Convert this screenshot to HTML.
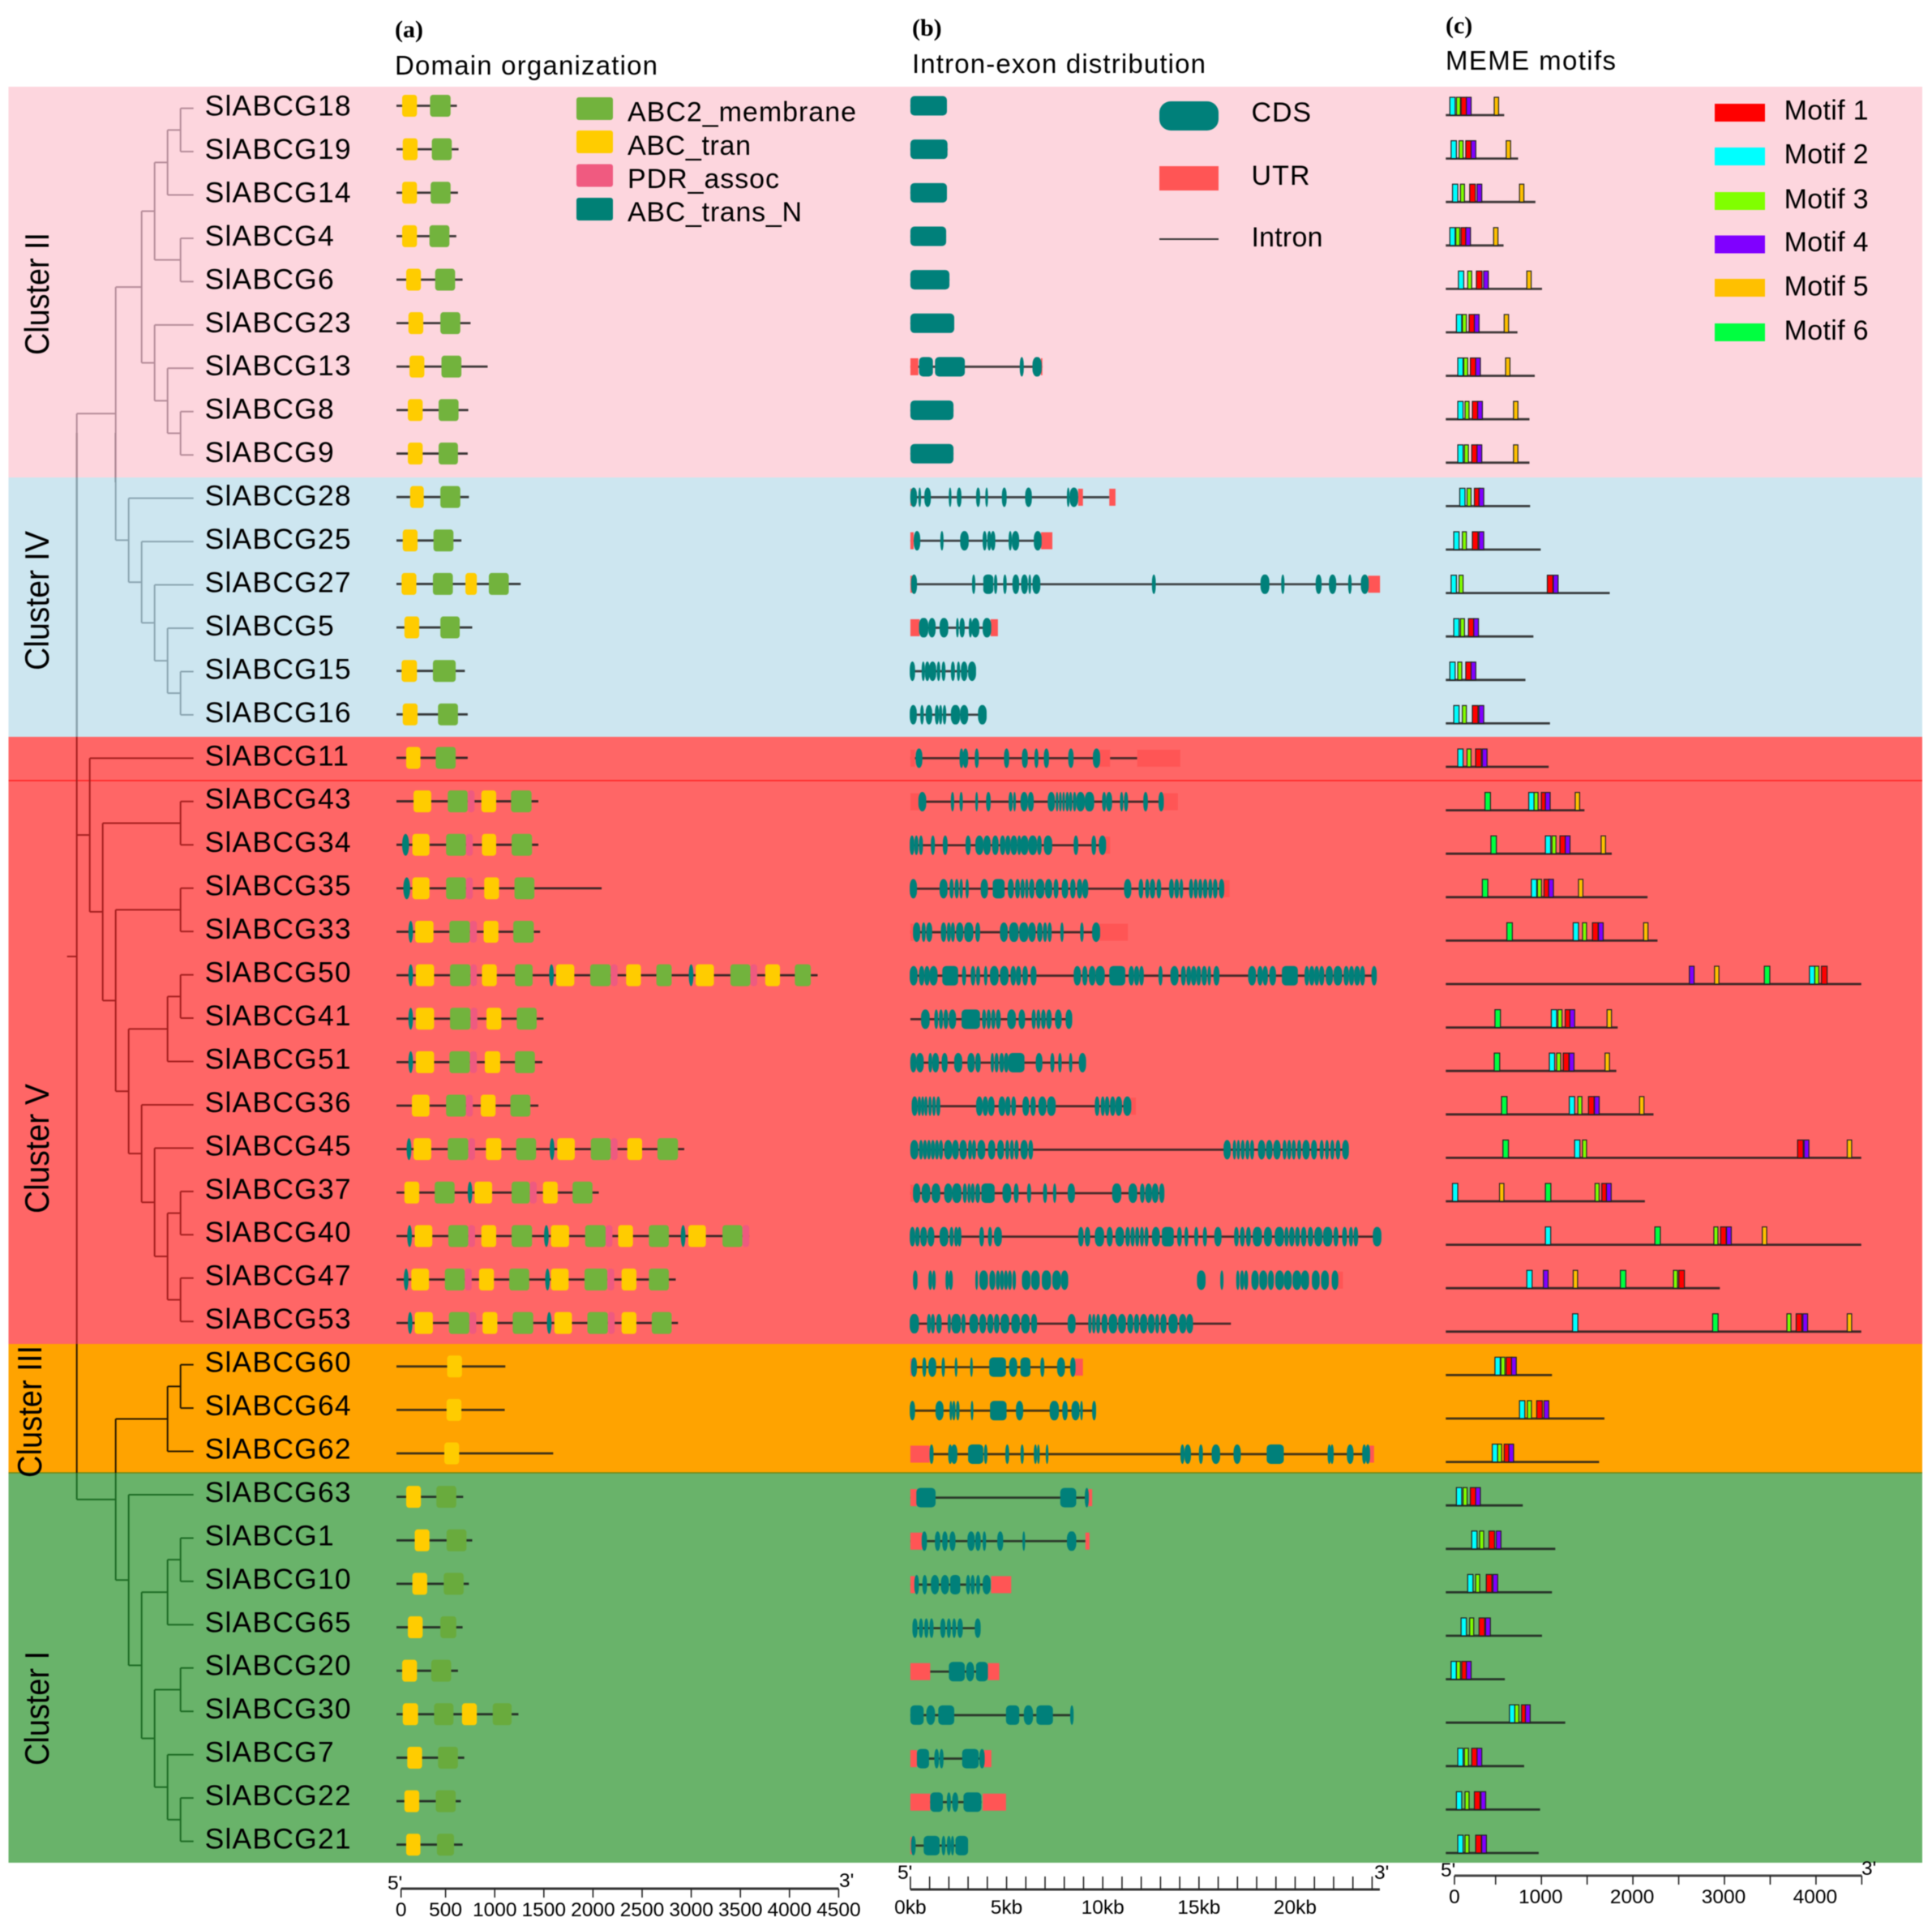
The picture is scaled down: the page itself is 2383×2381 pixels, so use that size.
<!DOCTYPE html>
<html lang="en">
<head>
<meta charset="utf-8">
<title>SlABCG gene family: domains, intron-exon structure and motifs</title>
<style>
html,body{margin:0;padding:0;background:#fff}
svg{display:block;filter:blur(0.55px)}
text{font-family:"Liberation Sans",sans-serif;fill:#000}
.hd{font-family:"Liberation Serif",serif;font-weight:bold;font-size:30px}
.ttl{font-size:33px}
.leg{font-size:34px}
.cl{font-size:42px}
.tk{font-size:24.5px}
.gl{font-size:35.5px;letter-spacing:1.2px}
</style>
</head>
<body>
<svg id="chart" xmlns="http://www.w3.org/2000/svg" width="2383" height="2381" viewBox="0 0 2383 2381">
<defs>
<linearGradient id="treeInk" gradientUnits="userSpaceOnUse" x1="0" y1="0" x2="0" y2="2381">
<stop offset="0" stop-color="#b58c99"/><stop offset="0.2474" stop-color="#b58c99"/>
<stop offset="0.2474" stop-color="#8ba5b1"/><stop offset="0.3818" stop-color="#8ba5b1"/>
<stop offset="0.3818" stop-color="#a51f1f"/><stop offset="0.6963" stop-color="#a51f1f"/>
<stop offset="0.6963" stop-color="#2a1a00"/><stop offset="0.7631" stop-color="#2a1a00"/>
<stop offset="0.7631" stop-color="#1d6b24"/><stop offset="1" stop-color="#1d6b24"/>
</linearGradient>
</defs>
<g>
<rect x="10.5" y="107" width="2360.5" height="482" fill="#fdd6de"/>
<rect x="10.5" y="589" width="2360.5" height="320" fill="#cde6f0"/>
<rect x="10.5" y="909" width="2360.5" height="749" fill="#ff6666"/>
<rect x="10.5" y="1658" width="2360.5" height="159" fill="#ffa300"/>
<rect x="10.5" y="1817" width="2360.5" height="481" fill="#69b36a"/>
<line x1="10.5" y1="963" x2="2371" y2="963" stroke="#ff2020" stroke-width="1.5"/>
<line x1="10.5" y1="1817" x2="2371" y2="1817" stroke="#6a8a1a" stroke-width="1.5"/>
</g>

<g>
<text class="hd" x="487" y="46">(a)</text>
<text class="ttl" x="487" y="92" textLength="324">Domain organization</text>
<text class="hd" x="1125" y="44">(b)</text>
<text class="ttl" x="1125" y="90" textLength="362">Intron-exon distribution</text>
<text class="hd" x="1783" y="41">(c)</text>
<text class="ttl" x="1783" y="86" textLength="210">MEME motifs</text>
</g>

<g>
<text class="cl" transform="translate(60,438) rotate(-90)" textLength="151" lengthAdjust="spacingAndGlyphs">Cluster II</text>
<text class="cl" transform="translate(60,827) rotate(-90)" textLength="172" lengthAdjust="spacingAndGlyphs">Cluster IV</text>
<text class="cl" transform="translate(60,1497) rotate(-90)" textLength="160" lengthAdjust="spacingAndGlyphs">Cluster V</text>
<text class="cl" transform="translate(51,1823) rotate(-90)" textLength="163" lengthAdjust="spacingAndGlyphs">Cluster III</text>
<text class="cl" transform="translate(60,2178) rotate(-90)" textLength="141" lengthAdjust="spacingAndGlyphs">Cluster I</text>
</g>

<g>
<rect x="711" y="120" width="45" height="28" rx="3" fill="#72b33d"/>
<rect x="711" y="161" width="45" height="28" rx="3" fill="#ffcc00"/>
<rect x="711" y="202.5" width="45" height="28" rx="3" fill="#f05a80"/>
<rect x="711" y="244" width="45" height="28" rx="3" fill="#008075"/>
<text class="leg" x="774" y="149.5" textLength="282">ABC2_membrane</text>
<text class="leg" x="774" y="191" textLength="152">ABC_tran</text>
<text class="leg" x="774" y="232" textLength="187">PDR_assoc</text>
<text class="leg" x="774" y="273" textLength="215">ABC_trans_N</text>
</g>

<g>
<rect x="1430" y="125" width="73" height="36" rx="14" fill="#00807a"/>
<rect x="1430" y="205" width="73" height="30" fill="#ff5555"/>
<line x1="1430" y1="295" x2="1503" y2="295" stroke="#333" stroke-width="2"/>
<text class="leg" x="1543.5" y="150" textLength="73.6">CDS</text>
<text class="leg" x="1543.5" y="228" textLength="72">UTR</text>
<text class="leg" x="1543.5" y="304" textLength="88">Intron</text>
</g>

<g>
<rect x="2115" y="128" width="62" height="22" fill="#ff0000"/>
<rect x="2115" y="182" width="62" height="22" fill="#00ffff"/>
<rect x="2115" y="237" width="62" height="22" fill="#80ff00"/>
<rect x="2115" y="290.5" width="62" height="22" fill="#8000ff"/>
<rect x="2115" y="344" width="62" height="22" fill="#ffc000"/>
<rect x="2115" y="399" width="62" height="22" fill="#00ff40"/>
<text class="leg" x="2200.6" y="147.5" textLength="104">Motif 1</text>
<text class="leg" x="2200.6" y="201.6" textLength="104">Motif 2</text>
<text class="leg" x="2200.6" y="257" textLength="104">Motif 3</text>
<text class="leg" x="2200.6" y="310" textLength="104">Motif 4</text>
<text class="leg" x="2200.6" y="364.4" textLength="104">Motif 5</text>
<text class="leg" x="2200.6" y="419" textLength="104">Motif 6</text>
</g>

<g id="tree">
<line x1="94.7" y1="534" x2="94.7" y2="909" stroke="#444" stroke-width="2"/>
<line x1="142.5" y1="534" x2="142.5" y2="595" stroke="#444" stroke-width="2"/>
</g>
<g id="labels"></g>
<g id="domains"></g>
<g id="structures"></g>
<g id="motifs"></g>

<g id="axisA">
<text class="tk" x="478" y="2331">5'</text>
<text class="tk" x="1035" y="2328">3'</text>
</g>
<g id="axisB">
<text class="tk" x="1107" y="2318">5'</text>
<text class="tk" x="1695" y="2318">3'</text>
</g>
<g id="axisC">
<text class="tk" x="1777" y="2315">5'</text>
<text class="tk" x="2296" y="2313">3'</text>
</g>
</svg>

<script>
const genes = ['SlABCG18','SlABCG19','SlABCG14','SlABCG4','SlABCG6','SlABCG23','SlABCG13','SlABCG8','SlABCG9','SlABCG28','SlABCG25','SlABCG27','SlABCG5','SlABCG15','SlABCG16','SlABCG11','SlABCG43','SlABCG34','SlABCG35','SlABCG33','SlABCG50','SlABCG41','SlABCG51','SlABCG36','SlABCG45','SlABCG37','SlABCG40','SlABCG47','SlABCG53','SlABCG60','SlABCG64','SlABCG62','SlABCG63','SlABCG1','SlABCG10','SlABCG65','SlABCG20','SlABCG30','SlABCG7','SlABCG22','SlABCG21'];

/* panel (a): protein length and domain spans, amino acids */
const proteinLengths = [615,632,626,609,673,754,928,731,725,737,661,1264,771,696,725,725,1444,1444,2088,1462,4286,1496,1485,1444,2929,2059,3590,2842,2865,1108,1102,1595,679,771,737,673,626,1241,690,655,673];
const domainSpans = [
[['T',58,209],['M',342,551]],
[['T',64,215],['M',360,563]],
[['T',58,209],['M',348,551]],
[['T',58,209],['M',336,539]],
[['T',99,249],['M',394,597]],
[['T',122,273],['M',447,650]],
[['T',133,284],['M',458,661]],
[['T',116,267],['M',429,632]],
[['T',116,267],['M',429,626]],
[['T',139,278],['M',447,650]],
[['T',64,215],['M',377,580]],
[['T',52,203],['M',371,574],['T',702,818],['M',940,1143]],
[['T',81,232],['M',447,644]],
[['T',52,209],['M',371,603]],
[['T',64,215],['M',423,626]],
[['T',99,244],['M',400,603]],
[['T',174,354],['M',522,725],['P',725,795],['T',864,1015],['M',1166,1375]],
[['N',58,128],['T',162,336],['M',505,708],['P',708,777],['T',870,1015],['M',1172,1380]],
[['N',70,139],['T',162,336],['M',505,708],['P',708,777],['T',893,1044],['M',1201,1404]],
[['N',122,168],['T',191,377],['M',539,748],['P',748,818],['T',887,1038],['M',1189,1398]],
[['N',122,168],['T',197,383],['M',545,754],['P',754,818],['T',870,1021],['M',1206,1386],['N',1554,1601],['T',1624,1810],['M',1972,2181],['P',2181,2250],['T',2337,2488],['M',2645,2801],['N',2975,3022],['T',3045,3231],['M',3399,3602],['P',3602,3671],['T',3753,3903],['M',4054,4217]],
[['N',122,168],['T',197,383],['M',545,754],['P',754,824],['T',916,1067],['M',1224,1427]],
[['N',122,168],['T',197,383],['M',539,748],['P',748,818],['T',899,1056],['M',1206,1409]],
[['T',157,336],['M',505,708],['P',708,777],['T',858,1009],['M',1160,1363]],
[['N',104,151],['T',174,354],['M',522,731],['P',731,800],['T',911,1067],['M',1218,1421],['N',1560,1607],['T',1636,1815],['M',1978,2181],['P',2181,2250],['T',2349,2500],['M',2656,2865]],
[['T',81,232],['M',389,592],['N',725,771],['T',795,974],['M',1172,1357],['P',1357,1427],['T',1491,1641],['M',1792,1995]],
[['N',110,157],['T',186,365],['M',528,731],['P',731,800],['T',864,1015],['M',1172,1380],['N',1502,1549],['T',1572,1757],['M',1920,2129],['P',2129,2198],['T',2256,2407],['M',2569,2772],['N',2894,2941],['T',2970,3149],['M',3318,3521],['P',3521,3590]],
[['N',75,122],['T',151,331],['M',493,696],['P',696,766],['T',841,992],['M',1148,1351],['N',1514,1560],['T',1572,1752],['M',1914,2146],['P',2146,2216],['T',2291,2442],['M',2569,2772]],
[['N',116,162],['T',186,371],['M',534,742],['P',742,812],['T',876,1027],['M',1183,1392],['N',1531,1578],['T',1607,1786],['M',1943,2152],['P',2152,2221],['T',2291,2442],['M',2598,2801]],
[['T',516,667]],
[['T',510,661]],
[['T',487,638]],
[['T',99,249],['M',406,609]],
[['T',186,336],['M',510,713]],
[['T',162,313],['M',481,684]],
[['T',116,267],['M',447,609]],
[['T',58,209],['M',354,557]],
[['T',64,220],['M',383,580],['T',667,818],['M',980,1172]],
[['T',110,261],['M',423,626]],
[['T',81,232],['M',400,603]],
[['T',99,244],['M',412,586]]
];

/* panel (b): intron line, UTR and CDS spans, kilobases */
const intronLines = [[0,1.9],[0,1.93],[0,1.9],[0,1.86],[0,2.03],[0,2.28],[0,6.86],[0,2.24],[0,2.24],[0,10.34],[0,6.8],[0,23.8],[0.4,4.2],[0,3.38],[0,3.93],[0,11.79],[0.45,13],[0,10],[0,16.3],[0,9.8],[0,24.1],[0,8.3],[0,9],[0.1,11.5],[0,22.7],[0,13],[0,24.2],[0,0],[0,16.66],[0,8.6],[0,9.6],[1,23.9],[0,9.3],[0,9.1],[0,4],[0.3,3.5],[1,4],[0,8.45],[0.3,3.8],[1,3.7],[0.1,2.9]];
const utrSpans = [
[],[],[],[],[],[],[[0,0.41],[6.79,6.86]],[],[],
[[0,0.28],[8.72,8.97],[10.34,10.66]],
[[0,0.17],[6.79,7.38]],
[[0,0.17],[23.79,24.41]],
[[0,0.48],[4.17,4.55]],
[],[],
[[0,0.24],[9.83,10.38],[11.79,14.03]],
[[0,0.45],[13.14,13.9]],
[[10.07,10.38]],
[[16.28,16.59]],
[[0,0.17],[9.83,11.31]],
[],[],[],
[[11.45,11.72]],
[],
[[0,0.17]],
[[24.07,24.45]],
[[22.21,22.48]],
[],
[[0,0.17],[8.52,8.97]],
[],
[[0,1],[23.86,24.1]],
[[0,0.34],[9.24,9.45]],
[[0,0.62],[9.1,9.31]],
[[0,0.24],[4.2,5.24]],
[],
[[0,1.03],[4.03,4.62]],
[],
[[0,0.34],[3.83,4.21]],
[[0,1.03],[3.76,4.97]],
[[0,0.14]]
];
const cdsSpans = [
[[0,1.9]],
[[0,1.93]],
[[0,1.9]],
[[0,1.86]],
[[0,2.03]],
[[0,2.28]],
[[0.45,1.17],[1.28,2.83],[5.72,5.86],[6.38,6.79]],
[[0,2.24]],
[[0,2.24]],
[[0.03,0.31],[0.45,0.52],[0.76,1.03],[2.03,2.1],[2.45,2.62],[3.45,3.59],[3.93,4],[4.79,4.97],[6,6.28],[8.17,8.24],[8.28,8.72]],
[[0.21,0.48],[1.59,1.69],[2.59,3.03],[3.79,3.93],[4.03,4.17],[4.21,4.38],[5.14,5.24],[5.31,5.62],[6.45,6.79]],
[[0.07,0.31],[3.24,3.34],[3.79,4.31],[4.38,4.48],[4.86,4.97],[5.34,5.62],[5.79,6.07],[6.17,6.24],[6.38,6.72],[12.59,12.72],[18.2,18.66],[19.31,19.41],[21.1,21.34],[21.79,22.1],[22.79,22.9],[23.45,23.79]],
[[0.48,0.9],[0.97,1.28],[1.52,1.97],[2.41,2.48],[2.59,2.79],[3.07,3.17],[3.21,3.55],[3.79,4.17]],
[[0,0.21],[0.62,0.72],[0.79,0.97],[1,1.31],[1.41,1.52],[1.66,1.79],[2.14,2.28],[2.45,2.55],[2.66,2.93],[3.03,3.38]],
[[0,0.3],[0.55,0.66],[0.83,1.1],[1.31,1.45],[1.52,1.62],[1.72,1.83],[2.14,2.55],[2.62,2.97],[3.55,3.93]],
[[0.31,0.59],[2.59,2.72],[2.76,2.97],[3.38,3.52],[4.9,5.1],[5.83,6.07],[6.48,6.62],[6.97,7.17],[8.24,8.45],[9.52,9.83]],
[[0.45,0.79],[2.14,2.24],[2.59,2.69],[3.41,3.48],[3.97,4.14],[5.14,5.28],[5.38,5.45],[5.76,6.07],[6.14,6.38],[7.17,7.48],[7.59,7.66],[7.76,7.83],[7.93,8],[8.1,8.21],[8.28,8.38],[8.48,8.59],[8.66,9.03],[9.1,9.52],[10,10.14],[10.21,10.45],[10.93,11.03],[11.14,11.28],[12.14,12.31],[12.93,13.14]],
[[0,0.17],[0.24,0.38],[0.48,0.62],[1.1,1.24],[1.72,1.9],[2.9,3.1],[3.41,3.76],[3.83,4.14],[4.28,4.55],[4.69,4.9],[4.97,5.17],[5.24,5.52],[5.59,5.72],[5.76,6.1],[6.17,6.55],[6.62,6.79],[6.97,7.34],[8.52,8.69],[9.45,9.62],[9.83,10.14]],
[[0,0.31],[1.55,1.9],[2.07,2.21],[2.34,2.48],[2.59,2.69],[2.9,3],[3.69,4],[4.28,4.9],[5.1,5.34],[5.48,5.66],[5.76,5.9],[6,6.1],[6.21,6.41],[6.55,6.93],[7.03,7.34],[7.48,7.66],[7.9,8.17],[8.34,8.55],[8.69,8.9],[8.97,9.21],[11.14,11.45],[11.9,12.07],[12.24,12.38],[12.48,12.69],[12.83,13],[13.48,13.66],[13.76,13.93],[14.03,14.14],[14.52,14.66],[14.76,14.9],[15,15.14],[15.24,15.41],[15.52,15.66],[15.76,15.93],[16.07,16.28]],
[[0.17,0.48],[0.62,0.76],[0.86,1.1],[1.62,1.83],[1.93,2.07],[2.14,2.28],[2.41,2.72],[2.83,3.24],[3.41,3.59],[4.69,5.03],[5.17,5.59],[5.69,6.1],[6.17,6.48],[6.62,6.83],[6.93,7.07],[7.17,7.31],[7.83,7.93],[8.86,8.97],[9.48,9.83]],
[[0,0.34],[0.48,0.69],[0.76,0.97],[1.03,1.38],[1.66,2.48],[2.72,2.86],[3.17,3.34],[3.45,3.59],[3.86,3.97],[4.17,4.55],[4.66,5.1],[5.24,5.45],[5.52,5.72],[5.86,6.07],[6.28,6.52],[8.52,8.83],[8.97,9.17],[9.31,9.59],[9.66,10.07],[10.34,11.17],[11.38,11.59],[11.66,11.86],[11.93,12.1],[12.93,13.07],[13.55,13.9],[14.1,14.28],[14.38,14.55],[14.62,14.83],[14.9,15.07],[15.17,15.38],[15.48,15.59],[15.79,16.03],[17.59,17.93],[18.07,18.28],[18.34,18.55],[18.69,18.97],[19.31,20.14],[20.52,20.69],[20.76,20.97],[21.03,21.21],[21.28,21.48],[21.62,21.93],[22.03,22.41],[22.55,22.76],[22.83,23.03],[23.1,23.34],[23.41,23.59],[24,24.21]],
[[0.59,0.97],[1.28,1.41],[1.52,1.66],[1.76,1.93],[2.03,2.34],[2.66,3.62],[3.76,3.9],[4,4.14],[4.24,4.38],[4.48,4.66],[5.07,5.45],[5.66,5.93],[6.34,6.48],[6.59,6.72],[6.83,7],[7.1,7.31],[7.55,7.83],[8.1,8.38]],
[[0.03,0.28],[0.34,0.66],[0.97,1.1],[1.17,1.45],[1.66,1.9],[2.31,2.66],[3,3.31],[3.41,3.62],[4.21,4.31],[4.41,4.55],[4.66,4.83],[4.9,5.07],[5.1,5.93],[6.55,6.83],[7.31,7.45],[7.72,7.83],[8.28,8.38],[8.79,9.1]],
[[0.1,0.34],[0.41,0.52],[0.59,0.69],[0.76,0.86],[0.97,1.07],[1.17,1.28],[1.38,1.52],[3.45,3.72],[3.79,4],[4.07,4.34],[4.62,4.9],[4.97,5.17],[5.28,5.45],[5.86,6.14],[6.28,6.48],[6.69,7.03],[7.14,7.52],[9.62,9.79],[9.93,10.07],[10.14,10.31],[10.41,10.62],[10.69,10.97],[11.1,11.45]],
[[0.03,0.38],[0.48,0.62],[0.69,0.83],[0.9,1.03],[1.1,1.24],[1.31,1.45],[1.52,1.66],[1.79,2.14],[2.21,2.48],[2.59,2.9],[3.03,3.17],[3.24,3.38],[3.52,3.86],[4.07,4.38],[4.55,4.83],[4.97,5.1],[5.21,5.34],[5.45,5.59],[5.76,6.07],[6.17,6.34],[16.31,16.62],[16.79,16.9],[17,17.1],[17.21,17.34],[17.45,17.59],[17.69,17.83],[18.1,18.41],[18.52,18.79],[18.9,19.21],[19.38,19.52],[19.62,19.76],[19.86,20],[20.14,20.28],[20.41,20.72],[20.86,21.1],[21.31,21.45],[21.59,21.72],[21.86,22],[22.14,22.31],[22.48,22.76]],
[[0.17,0.48],[0.62,1],[1.14,1.52],[1.79,2.14],[2.21,2.62],[2.76,2.9],[3,3.1],[3.17,3.31],[3.41,3.59],[3.69,4.38],[4.79,5.24],[5.41,5.59],[6.1,6.24],[6.93,7.07],[7.45,7.55],[8.21,8.52],[10.52,10.93],[11.34,11.79],[11.97,12.14],[12.24,12.52],[12.59,12.86],[12.97,13.17]],
[[0,0.21],[0.28,0.45],[0.55,0.83],[0.93,1.21],[1.52,1.97],[2.07,2.21],[2.31,2.45],[2.48,2.62],[3.62,3.79],[4.07,4.21],[4.38,4.72],[8.76,8.97],[9.1,9.31],[9.59,10.07],[10.24,10.48],[10.69,11.07],[11.21,11.38],[11.48,11.62],[11.72,11.86],[11.97,12.1],[12.21,12.34],[12.59,12.93],[13.07,13.69],[13.9,14.07],[14.28,14.41],[14.79,14.93],[15.24,15.38],[15.83,16.14],[16.86,17.03],[17.17,17.34],[17.48,17.66],[17.83,18.24],[18.41,18.76],[18.97,19.38],[19.48,19.62],[19.72,19.93],[20.03,20.21],[20.34,20.55],[20.69,20.9],[21.03,21.38],[21.45,21.93],[22.03,22.21],[22.48,22.66],[22.83,22.97],[23.07,23.24],[24.07,24.45]],
[[0.17,0.34],[0.97,1.1],[1.17,1.28],[1.86,1.97],[2.03,2.17],[3.41,3.48],[3.62,4],[4.14,4.38],[4.48,4.62],[4.69,4.83],[4.9,5.03],[5.1,5.24],[5.34,5.45],[5.83,6.21],[6.31,6.69],[6.83,7.31],[7.41,7.79],[7.86,8.17],[14.93,15.31],[16.14,16.24],[16.97,17.07],[17.17,17.31],[17.38,17.52],[17.76,18.07],[18.17,18.52],[18.62,18.86],[19,19.38],[19.45,19.79],[19.9,20.28],[20.34,20.69],[20.9,21.24],[21.38,21.72],[21.93,22.21]],
[[0,0.41],[0.9,1.03],[1.1,1.24],[1.38,1.59],[1.97,2.07],[2.17,2.59],[2.69,2.83],[3.07,3.52],[3.62,3.9],[4.03,4.28],[4.38,4.59],[4.69,5.14],[5.28,5.66],[5.79,6.17],[6.31,6.55],[8.21,8.55],[9.28,9.38],[9.48,9.59],[9.69,9.83],[9.97,10.21],[10.34,10.72],[10.83,11.17],[11.31,11.55],[11.66,11.86],[11.97,12.28],[12.38,12.66],[12.76,12.9],[13.03,13.28],[13.45,13.86],[14,14.31],[14.38,14.66]],
[[0.07,0.31],[0.66,0.79],[0.97,1.31],[1.66,1.76],[2.34,2.41],[3.14,3.21],[4.1,4.97],[5.17,5.52],[5.72,6.24],[6.79,6.93],[7.66,8],[8.34,8.55]],
[[0,0.21],[1.34,1.69],[2.07,2.14],[2.21,2.31],[2.41,2.52],[3.17,3.24],[4.14,5],[5.52,5.83],[7.24,7.72],[7.93,8.14],[8.41,8.76],[8.86,8.93],[9.48,9.62]],
[[1.03,1.17],[2,2.14],[2.14,2.41],[3,3.79],[3.86,3.97],[4.97,5.1],[5.76,5.86],[6.45,6.55],[6.62,6.69],[7.07,7.14],[14.07,14.21],[14.28,14.55],[15.03,15.17],[15.66,16.1],[16.83,17.14],[18.52,19.41],[21.72,21.83],[21.86,21.97],[22.72,23],[23.52,23.66],[23.69,23.86]],
[[0.31,1.31],[7.79,8.62],[9.1,9.24]],
[[0.62,0.83],[1.31,1.52],[1.69,1.9],[2.07,2.31],[3,3.31],[3.41,3.62],[3.79,3.9],[4.55,4.79],[5.86,5.93],[8.17,8.59]],
[[0.24,0.41],[0.66,0.83],[1.1,1.45],[1.62,1.97],[2.07,2.59],[2.93,3.07],[3.17,3.31],[3.45,3.59],[3.79,4.14]],
[[0.14,0.34],[0.48,0.62],[0.76,0.9],[1.03,1.17],[1.59,1.79],[1.93,2.07],[2.21,2.34],[2.48,2.69],[3.38,3.62]],
[[2,2.83],[2.93,3.28],[3.41,4.03]],
[[0,0.69],[0.83,1.28],[1.45,2.28],[4.97,5.66],[5.93,6.34],[6.55,7.41],[8.34,8.45]],
[[0.34,0.97],[1.28,1.45],[1.55,1.69],[2.69,3.55],[3.62,3.83]],
[[1.03,1.69],[1.93,2.07],[2.21,2.45],[2.76,3.69]],
[[0.07,0.24],[0.69,1.52],[1.66,1.79],[1.93,2.07],[2.14,2.24],[2.34,3]]
];

/* panel (c): protein length and motif start positions [motif, start], amino acids */
const motifRowLengths = [638,790,979,631,1051,783,972,914,914,921,1037,1791,957,870,1138,1124,1515,1813,2204,2313,4539,1878,1863,2269,4539,2175,4539,2994,4539,1160,1733,1675,841,1196,1160,1051,645,1305,856,1030,1015];
const motifLengths = {1:62,2:58,3:44,4:52,5:48,6:60};
const motifHits = [
[[2,44],[3,116],[1,167],[4,225],[5,529]],
[[2,58],[3,145],[1,218],[4,276],[5,660]],
[[2,73],[3,160],[1,261],[4,341],[5,805]],
[[2,44],[3,109],[1,167],[4,218],[5,522]],
[[2,138],[3,239],[1,334],[4,413],[5,885]],
[[2,116],[3,181],[1,254],[4,312],[5,638]],
[[2,131],[3,196],[1,268],[4,326],[5,653]],
[[2,131],[3,210],[1,290],[4,348],[5,740]],
[[2,131],[3,203],[1,283],[4,341],[5,740]],
[[2,152],[3,232],[1,312],[4,363]],
[[2,87],[3,181],[1,290],[4,363]],
[[2,58],[3,145],[1,1109],[4,1175]],
[[2,87],[3,160],[1,247],[4,305]],
[[2,44],[3,131],[1,218],[4,276]],
[[2,87],[3,181],[1,290],[4,363]],
[[2,131],[3,232],[1,326],[4,399]],
[[6,428],[2,906],[3,964],[1,1044],[4,1088],[5,1414]],
[[6,493],[2,1088],[3,1160],[1,1247],[4,1305],[5,1697]],
[[6,399],[2,935],[3,1001],[1,1073],[4,1124],[5,1450]],
[[6,667],[2,1392],[3,1494],[1,1602],[4,1668],[5,2161]],
[[4,2661],[5,2936],[6,3480],[2,3973],[3,4031],[1,4104]],
[[6,537],[2,1153],[3,1225],[1,1305],[4,1356],[5,1762]],
[[6,529],[2,1131],[3,1211],[1,1283],[4,1349],[5,1740]],
[[6,609],[2,1349],[3,1443],[1,1559],[4,1624],[5,2117]],
[[6,624],[2,1407],[3,1494],[1,3843],[4,3915],[5,4386]],
[[2,73],[5,587],[6,1088],[3,1631],[1,1704],[4,1755]],
[[2,1088],[6,2284],[3,2929],[1,3002],[4,3067],[5,3458]],
[[2,885],[4,1066],[5,1392],[6,1907],[3,2487],[1,2545]],
[[2,1385],[6,2915],[3,3727],[1,3828],[4,3901],[5,4386]],
[[2,537],[3,602],[1,660],[4,718]],
[[2,805],[3,892],[1,993],[4,1073]],
[[2,508],[3,566],[1,638],[4,689]],
[[2,116],[3,189],[1,268],[4,326]],
[[2,283],[3,370],[1,471],[4,551]],
[[2,239],[3,326],[1,442],[4,515]],
[[2,167],[3,261],[1,363],[4,435]],
[[2,58],[3,116],[1,174],[4,225]],
[[2,696],[3,754],[1,827],[4,870]],
[[2,131],[3,203],[1,283],[4,341]],
[[2,116],[3,210],[1,312],[4,384]],
[[2,131],[3,210],[1,326],[4,392]]
];

/* phylogeny: [depth, ...children] */
const cladeII = [5,[6,[7,[8,'SlABCG18','SlABCG19'],'SlABCG14'],[8,'SlABCG4','SlABCG6']],[6,'SlABCG23',[7,'SlABCG13',[8,'SlABCG8','SlABCG9']]]];
const cladeIV = [4,'SlABCG28',[5,'SlABCG25',[6,'SlABCG27',[7,'SlABCG5',[8,'SlABCG15','SlABCG16']]]]];
const cladeV = [1,'SlABCG11',[2,[8,'SlABCG43','SlABCG34'],[3,[8,'SlABCG35','SlABCG33'],[4,[7,[8,'SlABCG50','SlABCG41'],'SlABCG51'],[5,'SlABCG36',[6,'SlABCG45',[7,[8,'SlABCG37','SlABCG40'],[8,'SlABCG47','SlABCG53']]]]]]]];
const cladeIII = [7,[8,'SlABCG60','SlABCG64'],'SlABCG62'];
const cladeI = [4,'SlABCG63',[5,[7,[8,'SlABCG1','SlABCG10'],'SlABCG65'],[6,[8,'SlABCG20','SlABCG30'],[7,'SlABCG7',[8,'SlABCG22','SlABCG21']]]]];
const treeRoot = [0,[3,cladeII,cladeIV],cladeV,[3,cladeIII,cladeI]];

/* axis ticks */
const domainTicks = [0,500,1000,1500,2000,2500,3000,3500,4000,4500];
const geneTicks = [0,1,2,3,4,5,6,7,8,9,10,11,12,13,14,15,16,17,18,19,20,21,22,23,24];
const geneTickLabels = ['0kb','5kb','10kb','15kb','20kb'];
const geneLabelKb = [0,5,10,15,20];
const motifTicks = [0,500,1000,1500,2000,2500,3000,3500,4000,4500];
const motifTickLabels = [0,1000,2000,3000,4000];

const NS = 'http://www.w3.org/2000/svg';
function mk(parent, tag, attrs, txt){
  const el = document.createElementNS(NS, tag);
  for (const k in attrs) el.setAttribute(k, attrs[k]);
  if (txt !== undefined) el.textContent = txt;
  parent.appendChild(el);
  return el;
}
const xDomain = v => 489 + v * 0.1212;
const xGene = kb => 1122.9 + kb * 23.73;
const xMotif = v => 1783.3 + v * 0.1129;
const xTree = d => 94.7 + d * 16;
const yLabel = i => 142.5 + i * 53.45;
const yLeaf = i => 133.6 + i * 53.45;
const yDomain = i => 130.5 + i * 53.63;
const yGene = i => 130.5 + i * 53.66;
const yMotif = i => 142 + i * 53.6;
const domainFill = {T:'#ffcc00', P:'#ee5a80', N:'#008075'};
const motifFill = {1:'#ff0000',2:'#00ffff',3:'#80ff00',4:'#8000ff',5:'#ffc000',6:'#00ff40'};

const gLabels = document.getElementById('labels');
const gDom = document.getElementById('domains');
const gStr = document.getElementById('structures');
const gMot = document.getElementById('motifs');
const gTree = document.getElementById('tree');

genes.forEach((name, i) => {
  const lab = mk(gLabels, 'text', {class:'gl', x:252.6, y:yLabel(i)}, name);
  
  

  const y = yDomain(i);
  const pl = mk(gDom, 'line', {x1:xDomain(0), x2:xDomain(proteinLengths[i]), y1:y, y2:y, stroke:'#1c1c1c', 'stroke-width':2.8, 'stroke-opacity':0.85});
  
  
  domainSpans[i].forEach(d => {
    const x0 = xDomain(d[1]), x1 = xDomain(d[2]);
    const fill = d[0] === 'M' ? (i >= 32 ? '#69ab3d' : '#72b33d') : domainFill[d[0]];
    const rx = d[0] === 'N' ? (x1 - x0) / 2 : 3.5;
    const r = mk(gDom, 'rect', {x:x0, y:y - 13.5, width:x1 - x0, height:27, rx:rx, ry:d[0] === 'N' ? 13 : 4, fill:fill});
    
    
  });

  const yg = yGene(i);
  const il = intronLines[i];
  if (il[1] > il[0]) {
    const l = mk(gStr, 'line', {x1:xGene(il[0]), x2:xGene(il[1]), y1:yg, y2:yg, stroke:'#1c1c1c', 'stroke-width':2.8, 'stroke-opacity':0.8});
    
    
  }
  utrSpans[i].forEach(u => {
    const r = mk(gStr, 'rect', {x:xGene(u[0]), y:yg - 10.5, width:xGene(u[1]) - xGene(u[0]), height:21, fill:'#ff5555'});
    
    
  });
  cdsSpans[i].forEach(c => {
    const base = xGene(c[1]) - xGene(c[0]);
    const pad = base < 10 ? 0.8 : 0;
    const x0 = xGene(c[0]) - pad, w = base + pad * 2;
    const r = mk(gStr, 'rect', {x:x0, y:yg - 12, width:w, height:24, rx:Math.min(w / 2, 5), ry:w < 12 ? 9 : 5, fill:'#00807a'});
    
    
  });

  const ym = yMotif(i);
  const ml = mk(gMot, 'line', {x1:xMotif(0), x2:xMotif(motifRowLengths[i]), y1:ym, y2:ym, stroke:'#1c1c1c', 'stroke-width':2.8, 'stroke-opacity':0.85});
  
  
  motifHits[i].forEach(h => {
    const x0 = xMotif(h[1]);
    const r = mk(gMot, 'rect', {x:x0, y:ym - 22, width:xMotif(h[1] + motifLengths[h[0]]) - x0, height:22, fill:motifFill[h[0]], stroke:'#222', 'stroke-width':1.2});
    
    
  });
});

function treeSeg(x1, y1, x2, y2){
  const dx = x1 === x2 ? 0.001 : 0;
  const dy = y1 === y2 ? 0.001 : 0;
  const s = mk(gTree, 'line', {x1:x1, y1:y1, x2:x2 + dx, y2:y2 + dy, stroke:'url(#treeInk)', 'stroke-width':2});
  
  
}
function drawClade(node){
  if (typeof node === 'string') return {y:yLeaf(genes.indexOf(node)), x:xTree(9)};
  const x = xTree(node[0]);
  const kids = node.slice(1).map(drawClade);
  kids.forEach(k => treeSeg(x, k.y, k.x, k.y));
  const top = kids[0].y, bottom = kids[kids.length - 1].y;
  treeSeg(x, top, x, bottom);
  return {y:(top + bottom) / 2, x:x};
}
const rootPos = drawClade(treeRoot);
treeSeg(xTree(-0.75), rootPos.y, xTree(0), rootPos.y);

const axA = document.getElementById('axisA');
const axB = document.getElementById('axisB');
const axC = document.getElementById('axisC');

const aLine = mk(axA, 'line', {x1:xDomain(0) + 5.7, x2:xDomain(4500), y1:2330, y2:2330, stroke:'#333', 'stroke-width':3});


domainTicks.forEach(v => {
  const x = v === 0 ? xDomain(0) + 5.7 : xDomain(v);
  const t = mk(axA, 'line', {x1:x, x2:x, y1:2330, y2:2341, stroke:'#222', 'stroke-width':1.6});
  
  
  const l = mk(axA, 'text', {class:'tk', x:x, y:2364, 'text-anchor':'middle'}, v);
  
  
});

const bLine = mk(axB, 'line', {x1:xGene(0), x2:xGene(24.4), y1:2331, y2:2331, stroke:'#333', 'stroke-width':3});


geneTicks.forEach(v => {
  const t = mk(axB, 'line', {x1:xGene(v), x2:xGene(v), y1:2315, y2:2331, stroke:'#222', 'stroke-width':1.6});
  
  
});
geneTickLabels.forEach((txt, i) => {
  const l = mk(axB, 'text', {class:'tk', x:xGene(geneLabelKb[i]), y:2361, 'text-anchor':'middle'}, txt);
  
  
});

const cLine = mk(axC, 'line', {x1:1794, x2:xMotif(4500) + 5, y1:2314, y2:2314, stroke:'#444', 'stroke-width':3});


motifTicks.forEach(v => {
  const x = v === 0 ? 1794 : xMotif(v) + 5;
  const t = mk(axC, 'line', {x1:x, x2:x, y1:2314, y2:2325, stroke:'#222', 'stroke-width':1.6});
  
  
});
motifTickLabels.forEach(v => {
  const x = v === 0 ? 1794 : xMotif(v) + 4;
  const l = mk(axC, 'text', {class:'tk', x:x, y:2348, 'text-anchor':'middle'}, v);
  
  
});
</script>
</body>
</html>
